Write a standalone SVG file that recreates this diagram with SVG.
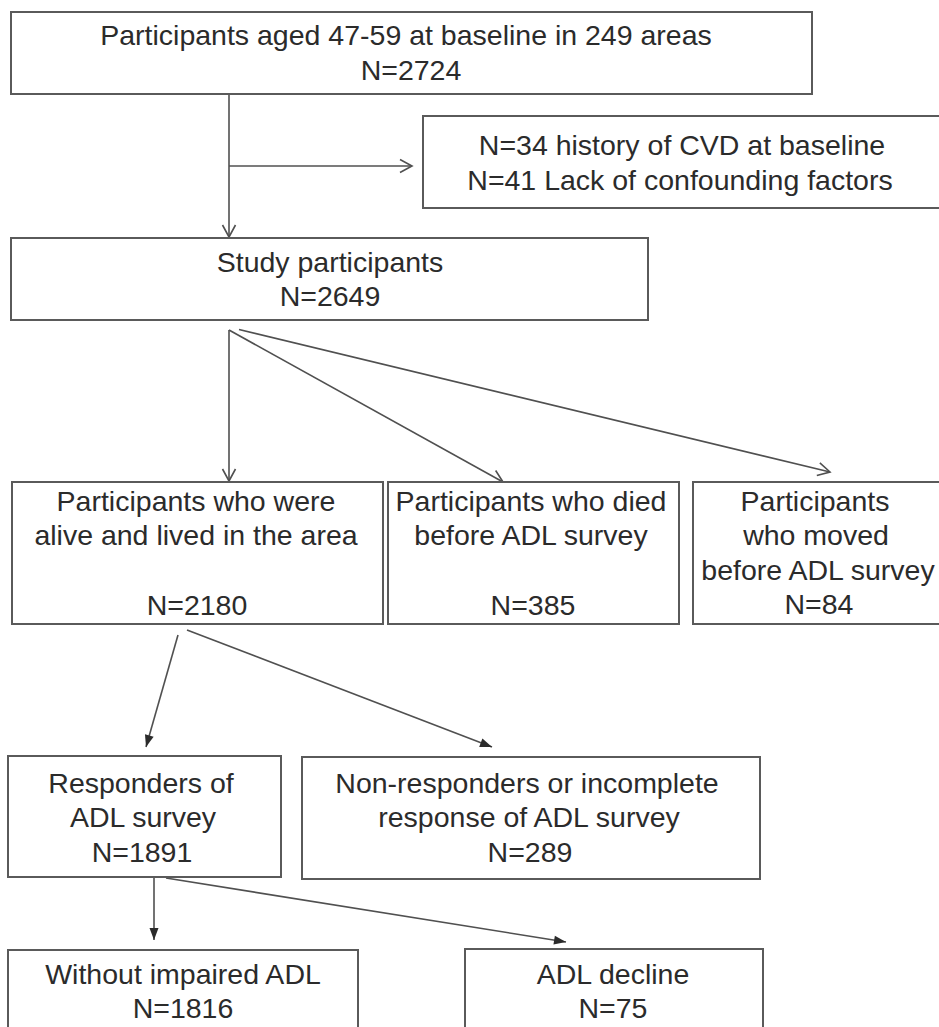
<svg xmlns="http://www.w3.org/2000/svg" width="939" height="1027" viewBox="0 0 939 1027">
<style>
.box{fill:#fff;stroke:#5a5a5a;stroke-width:2}
.t{font-family:"Liberation Sans",Arial,sans-serif;font-size:28.5px;fill:#2b2b2b;text-anchor:middle}
.c{fill:none;stroke:#505050;stroke-width:1.6}
</style>
<defs>
<marker id="open" viewBox="-14 -8 16 16" refX="0" refY="0" markerWidth="16" markerHeight="16" markerUnits="userSpaceOnUse" orient="auto">
<path d="M-12,-6.5 L0,0 L-12,6.5" fill="none" stroke="#505050" stroke-width="1.6"/>
</marker>
<marker id="solid" viewBox="-13 -6 14 12" refX="0" refY="0" markerWidth="14" markerHeight="12" markerUnits="userSpaceOnUse" orient="auto">
<path d="M-12,-4.5 L0,0 L-12,4.5Z" fill="#2b2b2b"/>
</marker>
</defs>
<rect width="939" height="1027" fill="#fff"/>
<g id="connectors">
<line class="c" x1="229" y1="94" x2="229" y2="237" marker-end="url(#open)"/>
<line class="c" x1="229" y1="166" x2="412" y2="166" marker-end="url(#open)"/>
<line class="c" x1="229" y1="330" x2="229" y2="481" marker-end="url(#open)"/>
<line class="c" x1="229" y1="330" x2="503" y2="482" marker-end="url(#open)"/>
<line class="c" x1="239" y1="329.5" x2="830" y2="472" marker-end="url(#open)"/>
<line class="c" x1="178" y1="635" x2="146" y2="747" marker-end="url(#solid)"/>
<line class="c" x1="187" y1="630" x2="492" y2="747" marker-end="url(#solid)"/>
<line class="c" x1="154" y1="878" x2="154" y2="940" marker-end="url(#solid)"/>
<line class="c" x1="166" y1="878" x2="566" y2="942" marker-end="url(#solid)"/>
</g>
<g id="n-baseline">
<rect class="box" x="11" y="12" width="801" height="82"/>
<text class="t" x="406" y="45">Participants aged 47-59 at baseline in 249 areas</text>
<text class="t" x="411" y="80">N=2724</text>
</g>
<g id="n-excluded">
<rect class="box" x="423" y="116" width="530" height="92"/>
<text class="t" x="682" y="155">N=34 history of CVD at baseline</text>
<text class="t" x="680" y="190">N=41 Lack of confounding factors</text>
</g>
<g id="n-study">
<rect class="box" x="11" y="238" width="637" height="82"/>
<text class="t" x="330" y="272">Study participants</text>
<text class="t" x="330" y="306">N=2649</text>
</g>
<g id="n-alive">
<rect class="box" x="12" y="482" width="371" height="142"/>
<text class="t" x="196" y="511">Participants who were</text>
<text class="t" x="196" y="545">alive and lived in the area</text>
<text class="t" x="197" y="615">N=2180</text>
</g>
<g id="n-died">
<rect class="box" x="388" y="482" width="291" height="142"/>
<text class="t" x="531" y="511">Participants who died</text>
<text class="t" x="531" y="545">before ADL survey</text>
<text class="t" x="533" y="615">N=385</text>
</g>
<g id="n-moved">
<rect class="box" x="693" y="482" width="260" height="142"/>
<text class="t" x="815" y="511">Participants</text>
<text class="t" x="816" y="545">who moved</text>
<text class="t" x="818" y="580">before ADL survey</text>
<text class="t" x="819" y="614">N=84</text>
</g>
<g id="n-responders">
<rect class="box" x="8" y="756" width="273" height="121"/>
<text class="t" x="141" y="793">Responders of</text>
<text class="t" x="143" y="827">ADL survey</text>
<text class="t" x="142" y="862">N=1891</text>
</g>
<g id="n-nonresponders">
<rect class="box" x="302" y="757" width="458" height="122"/>
<text class="t" x="527" y="793">Non-responders or incomplete</text>
<text class="t" x="529" y="827">response of ADL survey</text>
<text class="t" x="530" y="862">N=289</text>
</g>
<g id="n-without">
<rect class="box" x="8" y="950" width="350" height="100"/>
<text class="t" x="183" y="984">Without impaired ADL</text>
<text class="t" x="183" y="1018">N=1816</text>
</g>
<g id="n-decline">
<rect class="box" x="465" y="949" width="298" height="100"/>
<text class="t" x="613" y="984">ADL decline</text>
<text class="t" x="613" y="1018">N=75</text>
</g>
</svg>
